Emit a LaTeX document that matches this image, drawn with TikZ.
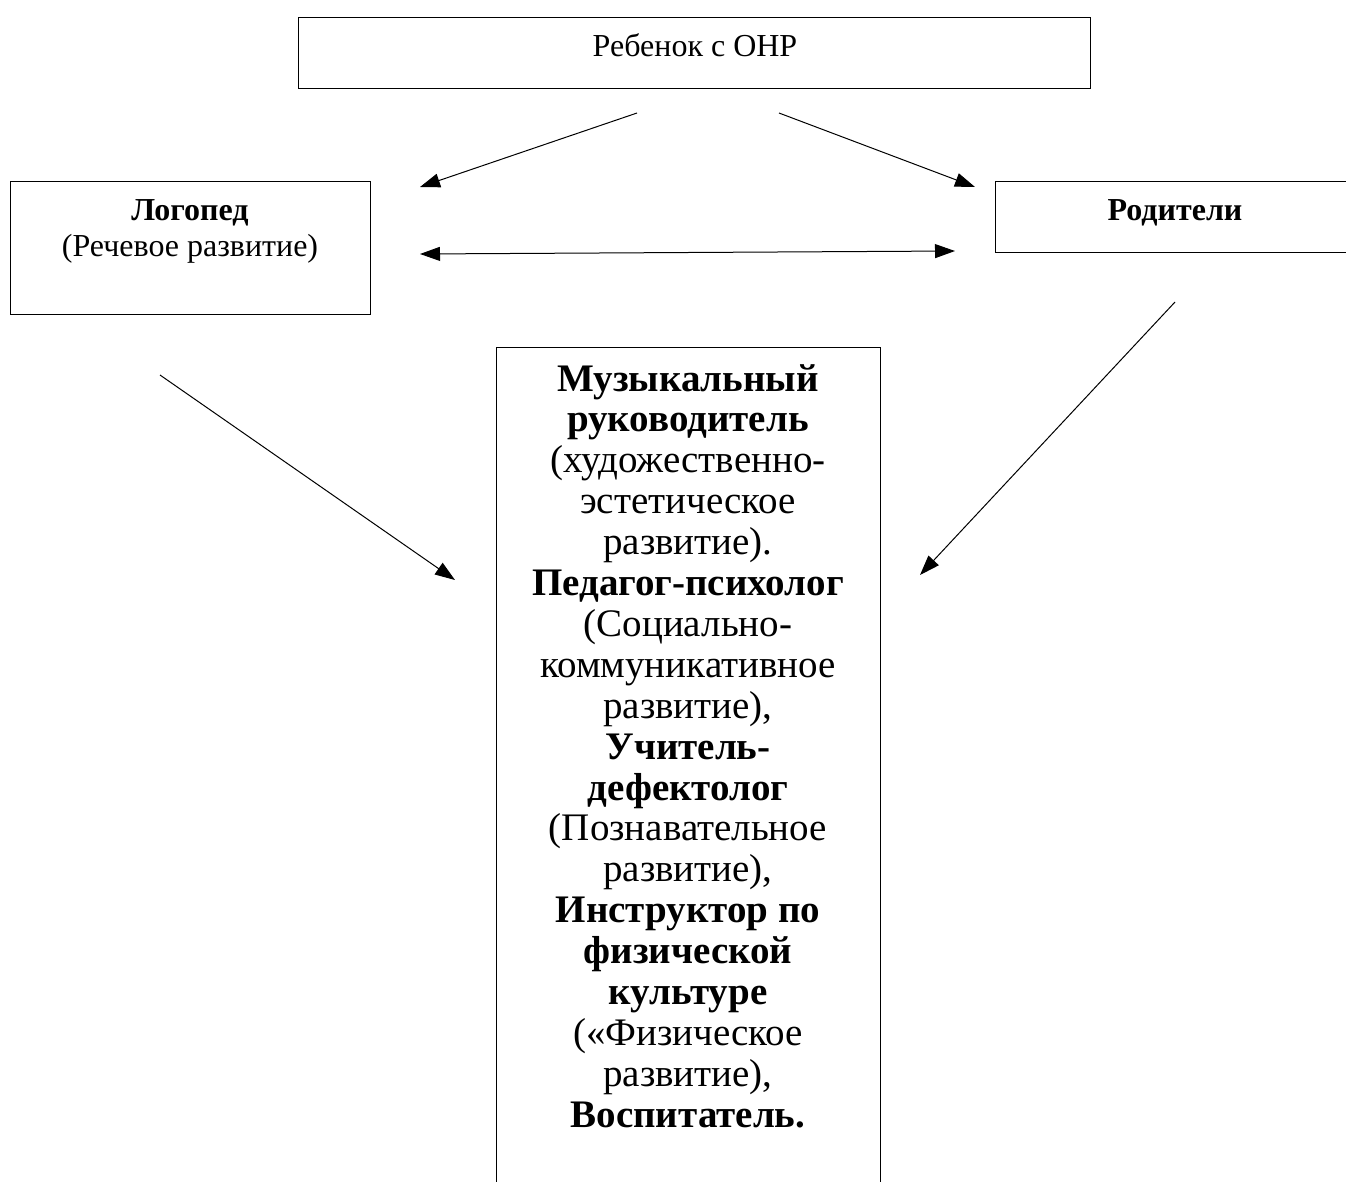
\documentclass[tikz,border=0pt]{standalone}
\usepackage{fontspec}
\setmainfont{Liberation Serif}
\usetikzlibrary{arrows.meta}

\begin{document}
\begin{tikzpicture}[x=1pt, y=-1pt,
    box/.style={draw, line width=1pt},
    small/.style={inner sep=0pt, align=center, font=\fontsize{32}{36.5}\selectfont},
    big/.style={inner sep=0pt, align=center, font=\fontsize{39}{40.9}\selectfont},
    link/.style={line width=1pt, -{Triangle[length=20pt, width=14pt]}},
    both/.style={line width=1pt, {Triangle[length=20pt, width=14pt]}-{Triangle[length=20pt, width=14pt]}}]
    \useasboundingbox (0,0) rectangle (1346,1181);
    \clip (0,0) rectangle (1346,1181);

    % boxes
    \draw[box] (298,17) rectangle (1090,88);
    \draw[box] (10,181) rectangle (370,314);
    \draw[box] (995,181) rectangle (1360,252);
    \draw[box] (496,347) rectangle (880,1200);

    % texts
    \node[small, anchor=base] (child) at (695,56) {Ребенок с ОНР};
    \node[small, anchor=base] (logoped) at (190,220) {\textbf{Логопед}};
    \node[small, anchor=base] (speech) at (190,256) {(Речевое развитие)};
    \node[small, anchor=base] (parents) at (1175,220) {\textbf{Родители}};
    \node[big, anchor=north] (staff) at (688,364) {\textbf{Музыкальный}\\
        \textbf{руководитель}\\
        (художественно-\\
        эстетическое\\
        развитие).\\
        \textbf{Педагог-психолог}\\
        (Социально-\\
        коммуникативное\\
        развитие),\\
        \textbf{Учитель-}\\
        \textbf{дефектолог}\\
        (Познавательное\\
        развитие),\\
        \textbf{Инструктор по}\\
        \textbf{физической}\\
        \textbf{культуре}\\
        («Физическое\\
        развитие),\\
        \textbf{Воспитатель.}};

    % arrow ends
    \coordinate (c1) at (637,113);
    \coordinate (c2) at (420,187);
    \coordinate (c3) at (779,113);
    \coordinate (c4) at (975,187);
    \coordinate (l1) at (420,254);
    \coordinate (r1) at (955,251);
    \coordinate (l2) at (160,375);
    \coordinate (s1) at (455,580);
    \coordinate (p1) at (1175,302);
    \coordinate (s2) at (920,575);

    \draw[link] (c1) -- (c2);
    \draw[link] (c3) -- (c4);
    \draw[both] (l1) -- (r1);
    \draw[link] (l2) -- (s1);
    \draw[link] (p1) -- (s2);
\end{tikzpicture}
\end{document}
